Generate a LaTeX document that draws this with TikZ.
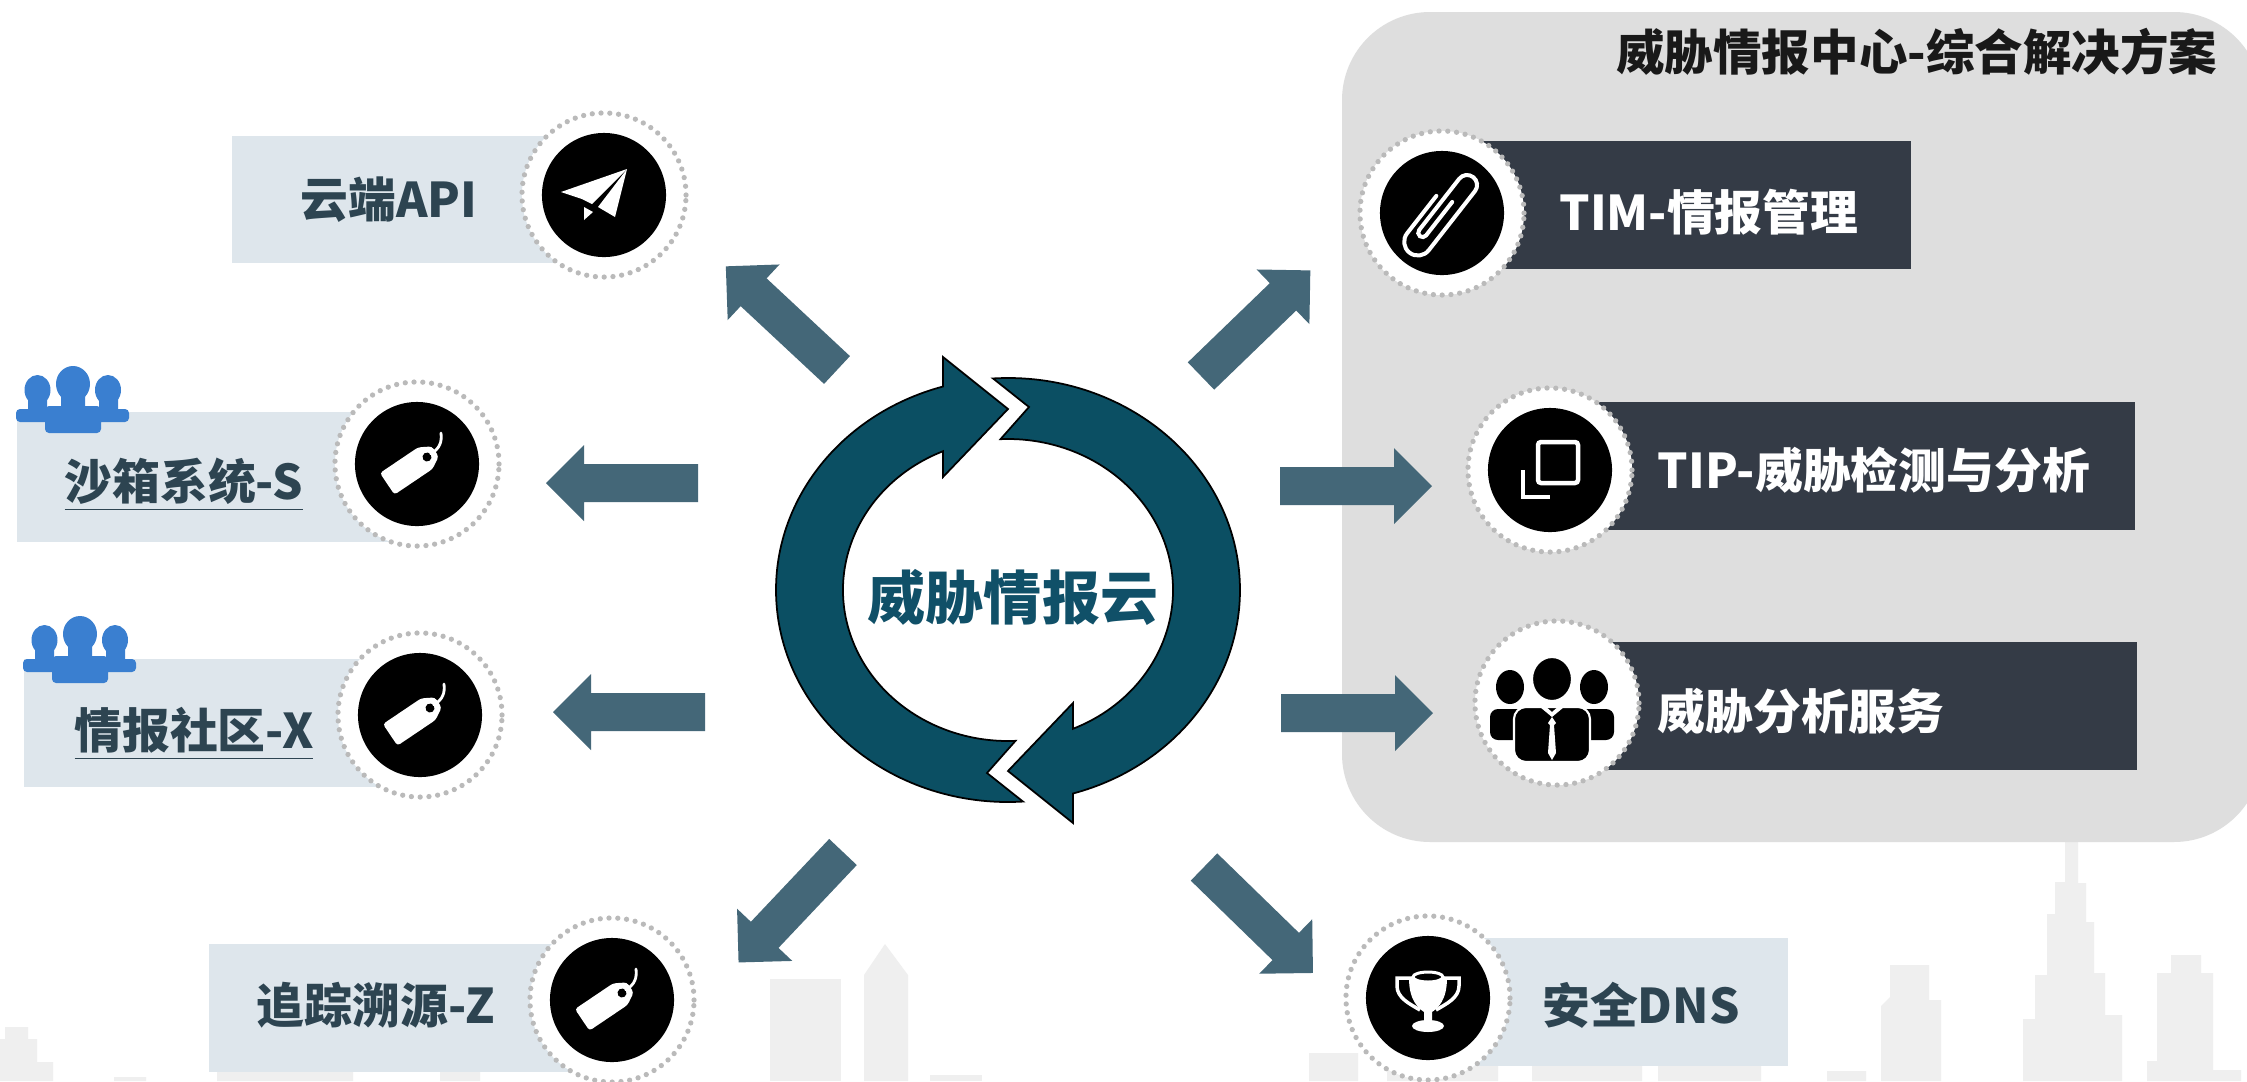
\documentclass[tikz,border=0pt]{standalone}
\usepackage{fontspec}
\usepackage{tikz}
\newfontfamily\cjk{Noto Sans CJK SC}
\definecolor{PanelGray}{RGB}{222,222,222}
\definecolor{CityGray}{RGB}{239,239,239}
\definecolor{PaleSlate}{RGB}{222,230,236}
\definecolor{BoxDark}{RGB}{52,59,70}
\definecolor{DotGray}{RGB}{186,186,186}
\definecolor{ArrowSlate}{RGB}{68,103,120}
\definecolor{CycleTeal}{RGB}{11,79,99}
\definecolor{HubTeal}{RGB}{16,80,104}
\definecolor{LabelInk}{RGB}{45,68,81}
\definecolor{CrowdBlue}{RGB}{58,127,208}

\begin{document}
\begin{tikzpicture}[x=0.01cm,y=-0.01cm,
  lbl/.style={font=\cjk\bfseries\fontsize{13.6}{16}\selectfont,inner sep=0pt},
  ring/.style={circle,fill=white,draw=DotGray,line width=1.5pt,line cap=round,
    dash pattern=on 0pt off 2.5pt,minimum size=1.64cm,inner sep=0pt},
  disc/.style={circle,fill=black,minimum size=1.24cm,inner sep=0pt},
  flowarrow/.pic={\fill[ArrowSlate] (0,-19) -- (114,-19) -- (114,-38) -- (152,0)
    -- (114,38) -- (114,19) -- (0,19) -- cycle;},
  crowd/.pic={
    \fill[CrowdBlue,rounded corners=0.04cm] (0,43) rectangle (41,56) (72,43) rectangle (113,56) (29,40) rectangle (85,67);
    \fill[CrowdBlue] (12,28) rectangle (31,46) (83,28) rectangle (102,46) (45,26) rectangle (69,42);
    \fill[CrowdBlue] (21.5,24) ellipse[x radius=13,y radius=15] (92,24) ellipse[x radius=13,y radius=15]
      (57,18) ellipse[x radius=17,y radius=18];},
  tagicon/.pic={
    \begin{scope}[shift={(10,-7)},rotate=34]
      \fill[white,rounded corners=0.03cm] (-48,-13) -- (-2,-13) -- (10,-6) -- (10,6) -- (-2,13) -- (-48,13) -- cycle;
      \fill[black] (0,0) circle[radius=4.5];
    \end{scope}
    \draw[white,line width=0.8pt,line cap=round] (14,-10) .. controls (23,-16) and (25,-22) .. (24,-31);},
  plane/.pic={
    \fill[white] (-43,-3) -- (23,-26) -- (-12,9) -- (-22,4) -- cycle;
    \fill[white] (23,-26) -- (11,22) -- (-6,12) -- cycle;
    \fill[white] (-20,12) -- (-11,17) -- (-20,25) -- cycle;},
  clip/.pic={
    \draw[white,line width=0.04cm,line cap=round,rotate=52,scale=1.25]
      (12,1) -- (-22,1) arc[start angle=90,end angle=270,radius=3.5] -- (30,-6)
      arc[start angle=-90,end angle=90,radius=8] -- (-30,10)
      arc[start angle=90,end angle=270,radius=11] -- (8,-12);},
  copyicon/.pic={
    \draw[white,line width=0.045cm,rounded corners=0.03cm] (-12,-28) rectangle (28,13);
    \draw[white,line width=0.045cm] (-27,0) -- (-27,27) -- (0,27);},
  suits/.pic={
    \fill[black,rounded corners=0.08cm] (-62,37) rectangle (-24,6) (24,6) rectangle (62,37);
    \fill[black] (-42,-16) ellipse[x radius=14,y radius=17] (42,-16) ellipse[x radius=14,y radius=17];
    \filldraw[fill=black,draw=white,line width=0.6pt] (0,-24) ellipse[x radius=20,y radius=22];
    \filldraw[fill=black,draw=white,line width=0.6pt,rounded corners=0.12cm] (-38,59) rectangle (38,4);
    \fill[white] (-12,4) -- (0,14) -- (12,4) -- (8,2) -- (0,9) -- (-8,2) -- cycle;
    \fill[white] (0,14) -- (-4,20) -- (-2,22) -- (-4,50) -- (0,57) -- (4,50) -- (2,22) -- (4,20) -- cycle;},
  trophy/.pic={
    \draw[white,line width=0.035cm] (-14,-20) -- (-31,-20) -- (-31,-12) .. controls (-31,0) and (-18,6) .. (-8,12);
    \draw[white,line width=0.035cm] (14,-20) -- (31,-20) -- (31,-12) .. controls (31,0) and (18,6) .. (8,12);
    \fill[white] (-19,-20) .. controls (-19,2) and (-10,10) .. (-4,14) -- (-4,24) -- (4,24) -- (4,14)
      .. controls (10,10) and (19,2) .. (19,-20) -- cycle;
    \filldraw[fill=black,draw=white,line width=0.03cm] (0,-21) ellipse[x radius=15,y radius=5];
    \fill[white] (0,28) ellipse[x radius=16,y radius=6];}]

\useasboundingbox (0,0) rectangle (2247,1081);
\fill[white] (0,0) rectangle (2247,1081);

% skyline
\begin{scope}[CityGray]
  \fill (0,1081) -- (0,1039) -- (5,1039) -- (5,1027) -- (28,1027) -- (28,1039) -- (37,1039)
    -- (37,1062) -- (53,1062) -- (53,1081) -- cycle;
  \fill (114,1077) rectangle (146,1081) (217,1060) rectangle (353,1081) (440,1060) rectangle (480,1081);
  \fill (770,979) rectangle (841,1081);
  \fill (864,1081) -- (864,975) -- (885,944) -- (908,975) -- (908,1081) -- cycle;
  \fill (930,1075) rectangle (982,1081);
  \fill (1309,1053) rectangle (1358,1081) (1387,1050) rectangle (1498,1081)
    (1532,1050) rectangle (1642,1081) (1658,1050) rectangle (1761,1081) (1827,1071) rectangle (1866,1081);
  \fill (1881,1081) -- (1881,1006) -- (1890,997) -- (1890,965) -- (1929,965) -- (1929,1000)
    -- (1941,1000) -- (1941,1081) -- cycle;
  \fill (2023,1081) -- (2023,1019) -- (2035,1019) -- (2035,975) -- (2047,975) -- (2047,914)
    -- (2055,914) -- (2055,882) -- (2065,882) -- (2065,800) -- (2078,800) -- (2078,883)
    -- (2086,883) -- (2086,922) -- (2094,922) -- (2094,973) -- (2105,973) -- (2105,1015)
    -- (2122,1015) -- (2122,1081) -- cycle;
  \fill (2147,1081) -- (2147,1061) -- (2157,1061) -- (2157,973) -- (2171,973) -- (2171,955)
    -- (2201,955) -- (2201,973) -- (2213,973) -- (2213,1070) -- (2241,1070) -- (2241,1081) -- cycle;
\end{scope}

% solution panel
\fill[PanelGray,rounded corners=0.88cm] (1342,12) rectangle (2262,842);
\node[lbl,anchor=east,font=\cjk\bfseries\fontsize{13.8}{16}\selectfont,text=black!90] (title) at (2218,52) {威胁情报中心-综合解决方案};

% label bars
\fill[PaleSlate] (232,136) rectangle (604,263);
\fill[PaleSlate] (17,412) rectangle (417,542);
\fill[PaleSlate] (24,659) rectangle (420,787);
\fill[PaleSlate] (209,944) rectangle (612,1072);
\fill[PaleSlate] (1428,938) rectangle (1788,1066);
\fill[BoxDark] (1442,141) rectangle (1911,269);
\fill[BoxDark] (1550,402) rectangle (2135,530);
\fill[BoxDark] (1557,642) rectangle (2137,770);

\pic at (16,366) {crowd};
\pic at (23,616) {crowd};

% icon badges
\node[ring] (apiring) at (604,195) {};
\node[disc] (api) at (apiring) {};
\pic at (api) {plane};
\node[ring] (sandring) at (417,464) {};
\node[disc] (sand) at (sandring) {};
\pic at (sand) {tagicon};
\node[ring] (commring) at (420,715) {};
\node[disc] (comm) at (commring) {};
\pic at (comm) {tagicon};
\node[ring] (traceiring) at (612,1000) {};
\node[disc] (trace) at (traceiring) {};
\pic at (trace) {tagicon};
\node[ring] (dnsring) at (1428,998) {};
\node[disc] (dns) at (dnsring) {};
\pic at (dns) {trophy};
\node[ring] (timring) at (1442,213) {};
\node[disc] (tim) at (timring) {};
\pic at (tim) {clip};
\node[ring] (tipring) at (1550,470) {};
\node[disc] (tip) at (tipring) {};
\pic at (tip) {copyicon};
\node[ring] (service) at (1557,703) {};
\pic at (1552,703) {suits};

% labels
\node[lbl,text=LabelInk] (apitext) at (389,200) {云端API};
\node[lbl,text=LabelInk] (sandtext) at (184,485) {\underline{沙箱系统-S}};
\node[lbl,text=LabelInk] (commtext) at (194,734) {\underline{情报社区-X}};
\node[lbl,text=LabelInk] (tracetext) at (376,1005) {追踪溯源-Z};
\node[lbl,text=LabelInk] (dnstext) at (1641,1005) {安全DNS};
\node[lbl,text=white] (timtext) at (1709,212) {TIM-情报管理};
\node[lbl,text=white] (tiptext) at (1874,470) {TIP-威胁检测与分析};
\node[lbl,text=white] (servicetext) at (1801,711) {威胁分析服务};

% outgoing arrows
\pic[rotate=137] at (837,370) {flowarrow};
\pic[rotate=180] at (698,483) {flowarrow};
\pic[rotate=180] at (705,712) {flowarrow};
\pic[rotate=226.6] at (843,852) {flowarrow};
\pic[rotate=44] at (1201,376) {flowarrow};
\pic at (1280,486) {flowarrow};
\pic at (1281,713) {flowarrow};
\pic[rotate=315.8] at (1204,867) {flowarrow};

% cycle
\begin{scope}[shift={(1008,590)},yscale=-1]
  \foreach \turn in {0,180}
    \filldraw[fill=CycleTeal,draw=black,line width=0.5pt,rotate=\turn]
      (273.7:232 and 212) arc[start angle=273.7,end angle=106.3,x radius=232,y radius=212]
      -- (-65,233) -- (0,181) -- (-65,113) -- (113.2:165 and 151)
      arc[start angle=113.2,end angle=272.6,x radius=165,y radius=151]
      -- (-21,-183) -- cycle;
\end{scope}
\node[lbl,font=\cjk\bfseries\fontsize{16.5}{20}\selectfont,text=HubTeal] (hub) at (1013,597) {威胁情报云};
\end{tikzpicture}
\end{document}
